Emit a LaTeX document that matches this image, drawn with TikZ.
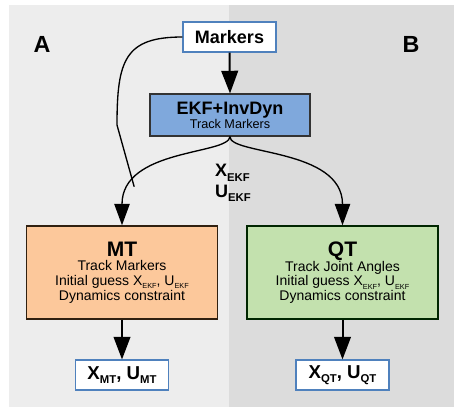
\documentclass[tikz,border=0pt]{standalone}
\usepackage{fontspec}
\setmainfont{Liberation Sans}
\usetikzlibrary{arrows.meta}
\definecolor{bgA}{HTML}{EDEDED}
\definecolor{bgB}{HTML}{DCDCDC}
\definecolor{ekfc}{HTML}{7FA8DC}
\definecolor{mtc}{HTML}{FCC89B}
\definecolor{qtc}{HTML}{C3E1AE}
\definecolor{blueb}{HTML}{4F81BD}
\newcommand{\sbs}[2]{\raisebox{-0.45ex}{\fontsize{#2}{#2}\selectfont #1}}
\tikzset{
  whitebox/.style={draw=blueb, line width=0.8pt, fill=white, inner sep=0pt, minimum width=69.75pt, minimum height=22.5pt, font=\bfseries},
  ekfbox/.style={draw=black!80, line width=0.8pt, fill=ekfc, inner sep=0pt, minimum width=120pt, minimum height=31.5pt, align=center},
  bigbox/.style={line width=1.1pt, inner sep=0pt, minimum width=143.25pt, minimum height=69.75pt, align=center},
  arr/.style={line width=1.5pt, -{Triangle[width=12.5pt,length=17pt]}},
  carr/.style={line width=1pt, -{Triangle[width=11.5pt,length=16pt]}},
  cline/.style={line width=1pt},
  panel/.style={font=\fontsize{17.5}{18}\selectfont\bfseries}
}
\begin{document}
\begin{tikzpicture}[x=0.75pt,y=-0.75pt]
\useasboundingbox (0,0) rectangle (464,415);
\fill[white] (0,0) rectangle (464,415);
\fill[bgA] (9,5) rectangle (229,407);
\fill[bgB] (229,5) rectangle (454,407);
\node[panel] (lA) at (42,44) {A};
\node[panel] (lB) at (411,44) {B};
\node[whitebox, font=\fontsize{13.5}{15}\selectfont\bfseries] (mk) at (229.5,37) {Markers};
\node[ekfbox] (ekf) at (230,115) {{\fontsize{13.5}{12.75}\selectfont\bfseries EKF+InvDyn}\\[-1.5pt]{\fontsize{9.5}{11}\selectfont Track Markers}};
\node[bigbox, draw=black!75!brown, fill=mtc] (mt) at (122,272.5) {{\fontsize{15.75}{14}\selectfont\bfseries MT}\\[-1pt]
  {\fontsize{10.5}{12.4}\selectfont Track Markers}\\[-1pt]
  {\fontsize{10.5}{12.4}\selectfont Initial guess X\sbs{EKF}{5.5}, U\sbs{EKF}{5.5}}\\[-1pt]
  {\fontsize{10.5}{12.4}\selectfont Dynamics constraint}};
\node[bigbox, draw=black!75!green!60!black, fill=qtc] (qt) at (342.5,272.5) {{\fontsize{15.75}{14}\selectfont\bfseries QT}\\[-1pt]
  {\fontsize{10.5}{12.4}\selectfont Track Joint Angles}\\[-1pt]
  {\fontsize{10.5}{12.4}\selectfont Initial guess X\sbs{EKF}{5.5}, U\sbs{EKF}{5.5}}\\[-1pt]
  {\fontsize{10.5}{12.4}\selectfont Dynamics constraint}};
\node[whitebox] (omt) at (122,375) {\fontsize{14}{15}\selectfont X\sbs{MT}{8.5}, U\sbs{MT}{8.5}};
\node[whitebox] (oqt) at (342.5,375) {\fontsize{14}{15}\selectfont X\sbs{QT}{8.5}, U\sbs{QT}{8.5}};
\node[align=left, inner sep=0pt, font=\bfseries] (xu) at (233,183) {{\fontsize{13.5}{17}\selectfont X\sbs{EKF}{8.5}}\\[2pt]{\fontsize{13.5}{17}\selectfont U\sbs{EKF}{8.5}}};
% arrows
\draw[arr] (mk.south) -- (ekf.north);
\draw[carr] (ekf.south) .. controls (229,155) and (122,148) .. (mt.north);
\path (ekf.south) .. controls (229,155) and (122,148) .. (mt.north) coordinate[pos=0.79] (j);
\draw[carr] (ekf.south) .. controls (229,155) and (342.5,148) .. (qt.north);
\draw[cline] (mk.west) .. controls (125,37) and (117,60) .. (117,125) -- (j);
\draw[arr] (mt.south) -- (omt.north);
\draw[arr] (qt.south) -- (oqt.north);
\end{tikzpicture}
\end{document}
